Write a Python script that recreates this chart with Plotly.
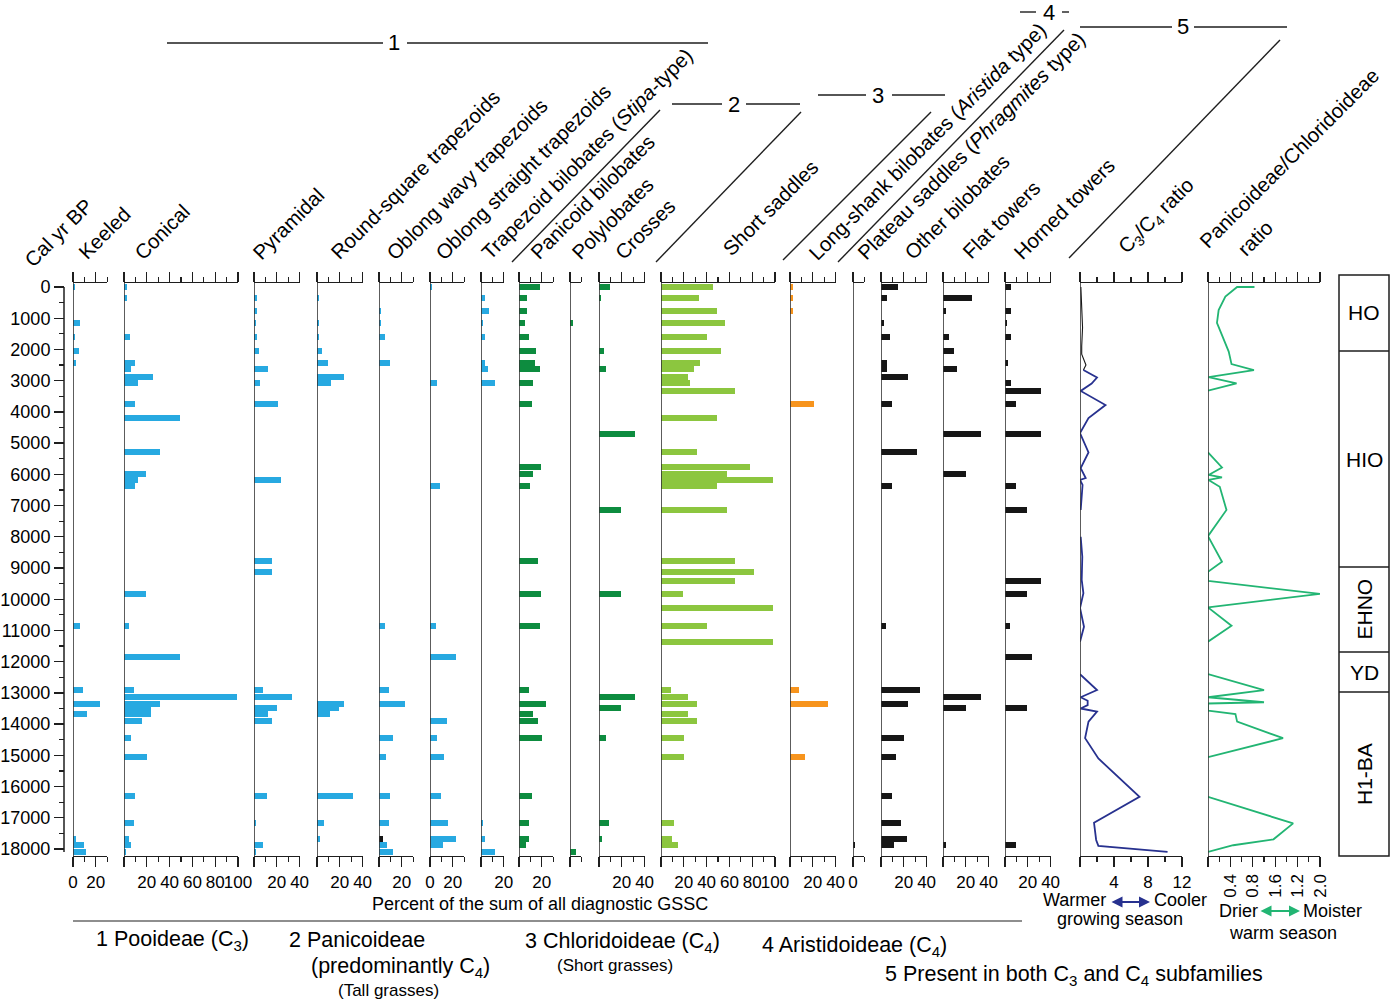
import plotly.graph_objects as go

W, H = 1400, 1001
FONT = "Arial, 'Liberation Sans', Helvetica, sans-serif"
INK = "#1e1e1e"

# ---------------- data ----------------
AGES = [0, 350, 770, 1150, 1600, 2050, 2430, 2630, 2880, 3080,
        3330, 3750, 4200, 4710, 5290, 5770, 5990, 6180, 6370, 7140,
        8780, 9130, 9420, 9830, 10280, 10860, 11370, 11850, 12910, 13130,
        13360, 13480, 13680, 13900, 14450, 15050, 16300, 17170, 17680, 17870,
        18100]

KEELED = [2, 0, 0, 6, 2, 5, 3, 0, 0, 0,
          0, 0, 0, 0, 0, 0, 0, 0, 0, 0,
          0, 0, 0, 0, 0, 6, 0, 0, 8.5, 0,
          24, 0, 12.5, 0, 0, 0, 0, 0, 3, 10,
          11]
CONICAL = [3, 3, 0, 0, 5, 0, 10, 6, 25, 12,
           0, 10, 49, 0, 32, 0, 19, 12, 10, 0,
           0, 0, 0, 19, 0, 4, 0, 49, 8.5, 99,
           32, 24, 24, 16, 6, 20, 10, 8.5, 4, 6,
           2]
PYRAMIDAL = [0, 3, 3, 2, 3, 4, 0, 12, 0, 5.5,
             0, 21, 0, 0, 0, 0, 0, 24, 0, 0,
             16, 16, 0, 0, 0, 0, 0, 0, 8, 33,
             0, 20, 12, 16, 0, 0, 11, 1.5, 0, 8,
             1.5]
ROUND_SQUARE = [0, 2, 0, 1.5, 2, 4.4, 10, 0, 24, 12,
                0, 0, 0, 0, 0, 0, 0, 0, 0, 0,
                0, 0, 0, 0, 0, 0, 0, 0, 0, 0,
                24, 19, 11, 0, 0, 0, 32, 6, 3, 0,
                0]
OBLONG_WAVY = [0, 0, 2, 2, 5, 0, 10, 0, 0, 0,
               0, 0, 0, 0, 0, 0, 0, 0, 0, 0,
               0, 0, 0, 0, 0, 5, 0, 0, 8.5, 0,
               23, 0, 0, 0, 12.5, 6, 10, 8.5, 0, 7,
               12.5]
OBLONG_WAVY_BLACK = [0, 0, 0, 0, 0, 0, 0, 0, 0, 0,
                     0, 0, 0, 0, 0, 0, 0, 0, 0, 0,
                     0, 0, 0, 0, 0, 0, 0, 0, 0, 0,
                     0, 0, 0, 0, 0, 0, 0, 0, 3.5, 0,
                     0]
OBLONG_STRAIGHT = [2, 0, 0, 0, 0, 0, 0, 0, 0, 6,
                   0, 0, 0, 0, 0, 0, 0, 0, 8.5, 0,
                   0, 0, 0, 0, 0, 5, 0, 23, 0, 0,
                   0, 0, 0, 15, 6, 12.5, 10, 16, 23, 11,
                   0]
STIPA = [0, 3.5, 7, 2, 3.5, 0, 3.5, 6, 0, 12.5,
         0, 0, 0, 0, 0, 0, 0, 0, 0, 0,
         0, 0, 0, 0, 0, 0, 0, 0, 0, 0,
         0, 0, 0, 0, 0, 0, 0, 2, 3.5, 0,
         12.5]
PANICOID = [18, 7, 7, 5, 9, 15, 14, 18, 0, 12.5,
            0, 11, 0, 0, 0, 19, 12.5, 0, 10, 0,
            17, 0, 0, 19, 0, 18, 0, 0, 9, 0,
            24, 0, 12.5, 17, 20, 0, 11, 9, 9, 6,
            0]
POLYLOBATES = [0, 0, 0, 2.3, 0, 0, 0, 0, 0, 0,
               0, 0, 0, 0, 0, 0, 0, 0, 0, 0,
               0, 0, 0, 0, 0, 0, 0, 0, 0, 0,
               0, 0, 0, 0, 0, 0, 0, 0, 0, 0,
               5]
CROSSES = [10, 2, 0, 0, 0, 4.4, 0, 6, 0, 0,
           0, 0, 0, 32, 0, 0, 0, 0, 0, 19,
           0, 0, 0, 19, 0, 0, 0, 0, 0, 32,
           0, 19, 0, 0, 6, 0, 0, 8.5, 3, 0,
           0]
SHORT_SADDLES = [46, 33, 49, 56, 40, 53, 34.5, 29, 24, 25.5,
                 65, 0, 49, 0, 32, 78, 58, 98, 49, 58,
                 65, 82, 65, 19, 98, 40, 98, 0, 8.5, 24,
                 32, 0, 24, 32, 20, 20, 0, 11, 9.5, 15,
                 0]
LONG_SHANK = [3, 3, 3, 0, 0, 0, 0, 0, 0, 0,
              0, 21, 0, 0, 0, 0, 0, 0, 0, 0,
              0, 0, 0, 0, 0, 0, 0, 0, 8, 0,
              33, 0, 0, 0, 0, 13.5, 0, 0, 0, 0,
              0]
PLATEAU = [0, 0, 0, 0, 0, 0, 0, 0, 0, 0,
           0, 0, 0, 0, 0, 0, 0, 0, 0, 0,
           0, 0, 0, 0, 0, 0, 0, 0, 0, 0,
           0, 0, 0, 0, 0, 0, 0, 0, 0, 2,
           0]
OTHER_BILOBATES = [15, 5.5, 0, 3, 8, 0, 5.5, 5.5, 24, 0,
                   0, 9.6, 0, 0, 32, 0, 0, 0, 9.6, 0,
                   0, 0, 0, 0, 0, 4.4, 0, 0, 34.5, 0,
                   24, 0, 0, 0, 20, 13.5, 9.6, 17.5, 23, 11,
                   0]
FLAT_TOWERS = [0, 25, 3, 0, 5.5, 9.4, 0, 12, 0, 0,
               0, 0, 0, 33, 0, 0, 20, 0, 0, 0,
               0, 0, 0, 0, 0, 0, 0, 0, 0, 33,
               0, 20, 0, 0, 0, 0, 0, 0, 0, 3,
               0]
HORNED_TOWERS = [5, 0, 5, 1.5, 5, 0, 2.6, 0, 0, 5,
                 32, 9.4, 0, 32, 0, 0, 0, 0, 9.4, 19,
                 0, 0, 32, 19, 0, 4, 0, 24, 0, 0,
                 0, 19, 0, 0, 0, 0, 0, 0, 0, 9.4,
                 0]

C3C4_BLACK_AGE = [0, 700, 1300, 1900, 2150, 2500, 2660]
C3C4_BLACK_VAL = [0.1, 0.2, 0.3, 0.2, 0.2, 0.7, 0.4]
C3C4_AGE = [2660, 2900, 3090, 3330, 3780, 4200, 4680, 5300, 5800, 6120,
            6180, 6340, 7140, None, 8000, 8640, 9380, 9810, 10280, 10880,
            11360, None, 12400, 12910, 13140, 13250, 13390, 13500, 13600, 13920,
            14450, 15100, 16330, 17160, 17710, 17900, 18090]
C3C4_VAL = [0.4, 2.0, 1.37, 0.08, 3.0, 1.0, 0.0, 1.0, 0.08, 0.67,
            0.0, 0.3, 0.08, None, 0.08, 0.27, 0.2, 0.4, 0.0, 0.47,
            0.0, None, 0.0, 2.0, 0.08, 0.9, 0.9, 0.08, 2.0, 1.0,
            0.6, 2.16, 7.0, 1.65, 1.9, 2.16, 10.3]

PC_AGE = [0, 0, 310, 740, 1150, 1700, 2070, 2470, 2660, 2890,
          3090, 3320, None, 5300, 5780, 6020, 6100, 6180, 6400, 7140,
          7980, 8800, 9120, 9410, 9830, 10260, 10850, 11360, None, 12400,
          12910, 13140, 13300, 13340, 13570, 13680, 13920, 14450, 15060, None,
          16330, 17180, 17690, 17880, 18090]
PC_VAL = [0.83, 0.52, 0.31, 0.19, 0.16, 0.28, 0.37, 0.42, 0.82, 0.01,
          0.51, 0.0, None, 0.0, 0.25, 0.01, 0.25, 0.01, 0.21, 0.33,
          0.0, 0.25, 0.0, 0.0, 2.0, 0.0, 0.42, 0.0, None, 0.0,
          1.0, 0.0, 1.0, 0.0, 0.0, 0.49, 0.52, 1.34, 0.0, None,
          0.0, 1.52, 1.17, 0.45, 0.0]

Y_TICKS = list(range(0, 18001, 1000))
ZONES = ["HO", "HIO", "EHNO", "YD", "H1-BA"]

# ---------------- style / layout ----------------
BLUE = "#27A9E1"
DKGREEN = "#0D8C3F"
LTGREEN = "#8CC63F"
ORANGE = "#F7941D"
BLACK = "#161616"
NAVY = "#27318F"
PCGREEN = "#22B573"

PXU = 1.14           # pixels per percent
TOP, BOT = 283, 856  # plot area in pixels
Y0PX, Y18PX = 287, 849
SC = (Y18PX - Y0PX) / 18000.0
Y_RANGE = [(BOT - Y0PX) / SC, (TOP - Y0PX) / SC]


def fx(p):
    return p / W


def fy(p):
    return 1 - p / H


P20 = ([0, 20, 40], ["", "20", "40"], [10, 30])
P100 = ([0, 20, 40, 60, 80, 100], ["", "20", "40", "60", "80", "100"], [10, 30, 50, 70, 90])
PANELS = [
    (KEELED, BLUE, 73, 30, ([0, 20], ["0", "20"], [10, 30])),
    (CONICAL, BLUE, 124, 100, P100),
    (PYRAMIDAL, BLUE, 254, 40, P20),
    (ROUND_SQUARE, BLUE, 317, 40, P20),
    (OBLONG_WAVY, BLUE, 379, 30, ([0, 20], ["", "20"], [10, 30])),
    (OBLONG_STRAIGHT, BLUE, 430, 30, ([0, 20], ["0", "20"], [10, 30])),
    (STIPA, BLUE, 481, 20, ([0, 20], ["", "20"], [10])),
    (PANICOID, DKGREEN, 519, 30, ([0, 20], ["", "20"], [10, 30])),
    (POLYLOBATES, DKGREEN, 570, 10, ([0], [""], [10])),
    (CROSSES, DKGREEN, 599, 40, P20),
    (SHORT_SADDLES, LTGREEN, 661, 100, P100),
    (LONG_SHANK, ORANGE, 790, 40, P20),
    (PLATEAU, BLACK, 853, 10, ([0], ["0"], [10])),
    (OTHER_BILOBATES, BLACK, 881, 40, P20),
    (FLAT_TOWERS, BLACK, 943, 40, P20),
    (HORNED_TOWERS, BLACK, 1005, 40, P20),
]

fig = go.Figure()
layout = {}
shapes = []
annotations = []
BAR_W = 205


def axis_cfg(x0px, x1px, rng, majors, labels, minors, tickangle=0):
    return dict(
        domain=[fx(x0px), fx(x1px)], range=rng, anchor="y", side="bottom",
        showline=True, linecolor=INK, linewidth=1.3, mirror="ticks",
        ticks="outside", ticklen=10, tickwidth=1.2, tickcolor=INK,
        tickmode="array", tickvals=majors, ticktext=labels, tickangle=tickangle,
        minor=dict(tickmode="array", tickvals=minors, ticks="outside",
                   ticklen=5, tickwidth=1.2, tickcolor=INK),
        showgrid=False, zeroline=False, fixedrange=True, automargin=False,
        tickfont=dict(size=17, family=FONT, color="black"),
    )


def left_line(xref):
    return dict(type="line", xref=xref, yref="paper", x0=0, x1=0,
                y0=fy(BOT), y1=fy(TOP), line=dict(color="#333333", width=1.6))


for i, (vals, color, zpx, mx, (maj, lab, mnr)) in enumerate(PANELS, start=1):
    xname = "x" if i == 1 else f"x{i}"
    key = "xaxis" if i == 1 else f"xaxis{i}"
    layout[key] = axis_cfg(zpx, zpx + mx * PXU, [0, mx], maj, lab, mnr)
    xs = [v for v in vals if v > 0]
    ys = [a for a, v in zip(AGES, vals) if v > 0]
    fig.add_trace(go.Bar(x=xs, y=ys, orientation="h", width=BAR_W,
                         marker=dict(color=color, line=dict(width=0)),
                         xaxis=xname, yaxis="y", hoverinfo="skip"))
    if vals is OBLONG_WAVY:
        xb = [v for v in OBLONG_WAVY_BLACK if v > 0]
        yb = [a for a, v in zip(AGES, OBLONG_WAVY_BLACK) if v > 0]
        fig.add_trace(go.Bar(x=xb, y=yb, orientation="h", width=BAR_W,
                             marker=dict(color=BLACK, line=dict(width=0)),
                             xaxis=xname, yaxis="y", hoverinfo="skip"))
    shapes.append(left_line(xname))

# C3/C4 ratio panel
n = len(PANELS) + 1
layout[f"xaxis{n}"] = axis_cfg(1080, 1182, [0, 12], [0, 4, 8, 12], ["", "4", "8", "12"], [2, 6, 10])
fig.add_trace(go.Scatter(x=C3C4_BLACK_VAL, y=C3C4_BLACK_AGE, mode="lines",
                         line=dict(color=BLACK, width=1.1), xaxis=f"x{n}", yaxis="y",
                         hoverinfo="skip"))
fig.add_trace(go.Scatter(x=C3C4_VAL, y=C3C4_AGE, mode="lines", connectgaps=False,
                         line=dict(color=NAVY, width=1.8), xaxis=f"x{n}", yaxis="y",
                         hoverinfo="skip"))
shapes.append(left_line(f"x{n}"))

# Panicoideae / Chloridoideae ratio panel
m = n + 1
layout[f"xaxis{m}"] = axis_cfg(1208, 1320, [0, 2.0], [0, 0.4, 0.8, 1.2, 1.6, 2.0],
                               ["", "0.4", "0.8", "1.6", "1.2", "2.0"],
                               [0.2, 0.6, 1.0, 1.4, 1.8], tickangle=-90)
fig.add_trace(go.Scatter(x=PC_VAL, y=PC_AGE, mode="lines", connectgaps=False,
                         line=dict(color=PCGREEN, width=1.8), xaxis=f"x{m}", yaxis="y",
                         hoverinfo="skip"))
shapes.append(left_line(f"x{m}"))

# age axis
layout["yaxis"] = dict(
    domain=[fy(BOT), fy(TOP)], range=Y_RANGE, anchor="free", position=fx(64),
    side="left", showline=False, ticks="outside", ticklen=10, tickwidth=1.3,
    tickcolor=INK, tickmode="array", tickvals=Y_TICKS,
    ticktext=[str(v) for v in Y_TICKS],
    minor=dict(tickmode="array", tickvals=[v + 500 for v in Y_TICKS[:-1]],
               ticks="outside", ticklen=5, tickwidth=1.3, tickcolor=INK),
    showgrid=False, zeroline=False, fixedrange=True, automargin=False,
    tickfont=dict(size=18, family=FONT, color="black"),
)
shapes.append(dict(type="line", xref="paper", yref="y", x0=fx(64), x1=fx(64),
                   y0=0, y1=18100, line=dict(color=INK, width=1.5)))


def pline(x0, y0, x1, y1, w=1.4):
    shapes.append(dict(type="line", xref="paper", yref="paper",
                       x0=fx(x0), y0=fy(y0), x1=fx(x1), y1=fy(y1),
                       line=dict(color=INK, width=w)))


def ann(text, x, y, size, xanchor="center", yanchor="middle", angle=0, color="black"):
    annotations.append(dict(text=text, x=fx(x), y=fy(y), xref="paper", yref="paper",
                            showarrow=False, xanchor=xanchor, yanchor=yanchor,
                            textangle=angle, borderpad=0,
                            font=dict(size=size, family=FONT, color=color)))


# column headers (rotated)
HEADERS = [
    ("Cal yr BP", 31, 270), ("Keeled", 85, 262), ("Conical", 141, 262),
    ("Pyramidal", 259, 262), ("Round-square trapezoids", 337, 262),
    ("Oblong wavy trapezoids", 393, 262), ("Oblong straight trapezoids", 442, 262),
    ("Trapezoid bilobates (<i>Stipa</i>-type)", 488, 262),
    ("Panicoid bilobates", 537, 262), ("Polylobates", 578, 262), ("Crosses", 622, 262),
    ("Short saddles", 729, 258),
    ("Long-shank bilobates (<i>Aristida</i> type)", 815, 263),
    ("Plateau saddles (<i>Phragmites</i> type)", 864, 263),
    ("Other bilobates", 911, 262), ("Flat towers", 969, 262),
    ("Horned towers", 1020, 262), ("C<sub>3</sub>/C<sub>4</sub> ratio", 1125, 258),
    ("Panicoideae/Chloridoideae", 1206, 250), ("ratio", 1244, 258),
]
for t, gx, gy in HEADERS:
    ann(t, gx - 12, gy + 3, 20.4, xanchor="left", yanchor="bottom", angle=-45)

# diagonal separators
pline(512, 262, 660, 110)
pline(656, 262, 801, 112)
pline(783, 260, 931, 112)
pline(838, 262, 1064, 30)
pline(1069, 258, 1280, 40)

# group brackets
for (a, b, c, d, y, lab, lx) in [
    (167, 383, 407, 708, 43, "1", 394),
    (672, 722, 746, 800, 104, "2", 734),
    (818, 866, 892, 945, 95, "3", 878),
    (1020, 1036, 1062, 1069, 12, "4", 1049),
    (1080, 1172, 1194, 1287, 27, "5", 1183),
]:
    pline(a, y, b, y)
    pline(c, y, d, y)
    ann(lab, lx, y, 22)

# bottom captions
ann("Percent of the sum of all diagnostic GSSC", 540, 904, 18)
pline(73, 921, 1022, 921, 1.2)
ann("1 Pooideae (C<sub>3</sub>)", 172, 940, 21.5)
ann("2 Panicoideae", 357, 940, 21.5)
ann("(predominantly C<sub>4</sub>)", 400, 967, 21.5)
ann("(Tall grasses)", 388, 990, 17)
ann("3 Chloridoideae (C<sub>4</sub>)", 622, 942, 21.5)
ann("(Short grasses)", 615, 965, 17)
ann("4 Aristidoideae (C<sub>4</sub>)", 854, 946, 21.5)
ann("5 Present in both C<sub>3</sub> and C<sub>4</sub> subfamilies", 1074, 975, 21.5)
ann("Warmer", 1107, 900, 18, xanchor="right")
ann("Cooler", 1153, 900, 18, xanchor="left")
ann("growing season", 1120, 919, 18)
ann("Drier", 1259, 911, 18, xanchor="right")
ann("Moister", 1302, 911, 18, xanchor="left")
ann("warm season", 1283, 933, 18)
for (xa, xb, yy, col) in [(1110, 1150, 902, NAVY), (1259, 1300, 911, PCGREEN)]:
    annotations.append(dict(x=fx(xb), y=fy(yy), ax=-(xb - xa), ay=0, xref="paper",
                            yref="paper", axref="pixel", ayref="pixel", text="",
                            showarrow=True, arrowhead=2, startarrowhead=2,
                            arrowside="end+start", arrowsize=1, startarrowsize=1,
                            arrowwidth=2.2, arrowcolor=col, standoff=0, startstandoff=0))

# zone column
ZX0, ZX1 = 1339, 1389
ZB = [275, 351, 567, 652, 692, 856]
shapes.append(dict(type="rect", xref="paper", yref="paper", x0=fx(ZX0), x1=fx(ZX1),
                   y0=fy(ZB[-1]), y1=fy(ZB[0]), line=dict(color=INK, width=1.5)))
for yb in ZB[1:-1]:
    pline(ZX0, yb, ZX1, yb, 1.5)
for k, z in enumerate(ZONES):
    yc = (ZB[k] + ZB[k + 1]) / 2
    ang = -90 if z in ("EHNO", "H1-BA") else 0
    ann(z, (ZX0 + ZX1) / 2, yc, 21, angle=ang)

layout.update(
    width=W, height=H, autosize=False, margin=dict(l=0, r=0, t=0, b=0, pad=0),
    paper_bgcolor="white", plot_bgcolor="rgba(0,0,0,0)", showlegend=False,
    barmode="overlay", bargap=0, template="none",
    font=dict(family=FONT, color="black"),
    shapes=shapes, annotations=annotations,
)
fig.update_layout(**layout)

fig.write_html("out.html", include_plotlyjs=True,
               config={"displayModeBar": False, "staticPlot": True},
               post_script="document.body.style.margin='0';document.body.style.overflow='hidden';")
